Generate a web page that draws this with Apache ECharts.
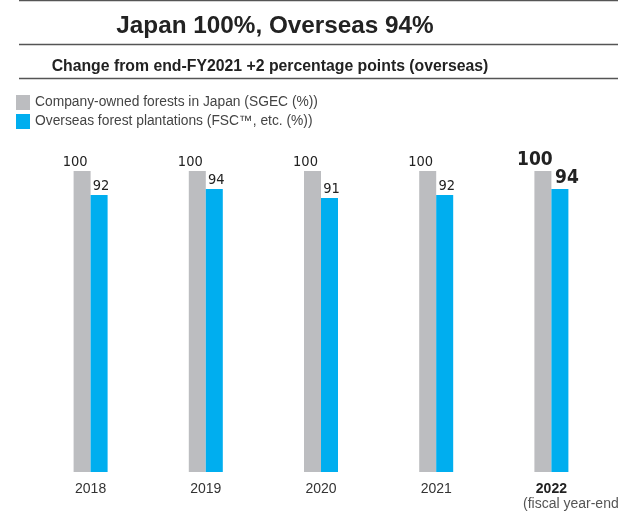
<!DOCTYPE html>
<html>
<head>
<meta charset="utf-8">
<script src="https://cdn.jsdelivr.net/npm/echarts@6/dist/echarts.min.js"></script>
<style>
  html, body { margin: 0; padding: 0; background: #fff; }
  #chart { width: 618px; height: 517px; }
</style>
</head>
<body>
<div id="chart"></div>
<script>
// Certification rates by fiscal year-end
const years = ['2018', '2019', '2020', '2021', '2022'];
const japanValues = [100, 100, 100, 100, 100];
const overseasValues = [92, 94, 91, 92, 94];
const seriesNames = ['Company-owned forests in Japan (SGEC (%))', 'Overseas forest plantations (FSC\u2122, etc. (%))'];

const GREY = '#bcbdc0';
const BLUE = '#00aeef';
const SANS = '"Liberation Sans", Arial, sans-serif';
const NARROW = '"DejaVu Sans Condensed", "Liberation Sans Narrow", "Liberation Sans", sans-serif';
const lastIdx = years.length - 1;

function buildData(values, color, offsetNormal, offsetLast) {
  return values.map((v, i) => {
    const last = i === lastIdx;
    return {
      value: v,
      itemStyle: { color: color },
      label: {
        offset: last ? offsetLast : offsetNormal,
        fontSize: last ? 19 : 14.5,
        fontWeight: last ? 'bold' : 'normal'
      }
    };
  });
}

const chart = echarts.init(document.getElementById('chart'), null, { renderer: 'canvas' });

chart.setOption({
  animation: false,
  title: [
    {
      text: 'Japan 100%, Overseas 94%',
      left: 270, top: 9, textAlign: 'center',
      textStyle: { fontFamily: SANS, fontSize: 24.3, fontWeight: 'bold', color: '#222' }
    },
    {
      text: 'Change from end-FY2021 +2 percentage points (overseas)',
      left: 265, top: 54, textAlign: 'center',
      textStyle: { fontFamily: SANS, fontSize: 15.8, fontWeight: 'bold', color: '#222' }
    }
  ],
  legend: {
    orient: 'vertical',
    left: 16, top: 95, padding: 0,
    itemWidth: 14, itemHeight: 15, itemGap: 4,
    icon: 'rect',
    selectedMode: false,
    textStyle: { fontFamily: SANS, fontSize: 13.8, color: '#444', padding: [0, 0, 0, 0] },
    data: seriesNames
  },
  grid: { left: 33, right: 9, top: 171, bottom: 45 },
  xAxis: {
    type: 'category',
    data: years,
    axisLine: { show: false },
    axisTick: { show: false },
    axisLabel: {
      margin: 10,
      fontFamily: SANS,
      fontSize: 14,
      color: '#333',
      formatter: (v, i) => i === lastIdx ? '{b|' + v + '}' : v,
      rich: { b: { fontFamily: SANS, fontSize: 14, fontWeight: 'bold', color: '#222' } }
    }
  },
  yAxis: { type: 'value', min: 0, max: 100, show: false, splitLine: { show: false } },
  series: [
    {
      name: seriesNames[0],
      type: 'bar',
      barWidth: 17,
      barGap: '0%',
      itemStyle: { color: GREY },
      label: {
        show: true, position: 'top', distance: 1.5,
        fontFamily: NARROW, color: '#222'
      },
      data: buildData(japanValues, GREY, [-7, 0], [-8, 0])
    },
    {
      name: seriesNames[1],
      type: 'bar',
      barWidth: 17,
      itemStyle: { color: BLUE },
      label: {
        show: true, position: 'top', distance: 1.5,
        fontFamily: NARROW, color: '#222'
      },
      data: buildData(overseasValues, BLUE, [2, 0], [7, 0])
    }
  ],
  graphic: [
    { type: 'line', shape: { x1: 19, y1: 0.5, x2: 618, y2: 0.5 }, style: { stroke: '#555', lineWidth: 1.5 } },
    { type: 'line', shape: { x1: 19, y1: 44.5, x2: 618, y2: 44.5 }, style: { stroke: '#555', lineWidth: 1.5 } },
    { type: 'line', shape: { x1: 19, y1: 78.5, x2: 618, y2: 78.5 }, style: { stroke: '#555', lineWidth: 1.5 } },
    {
      type: 'text', left: 523, top: 497,
      style: { text: '(fiscal year-end)', fontFamily: SANS, fontSize: 14, fill: '#555' }
    }
  ]
});
</script>
</body>
</html>
